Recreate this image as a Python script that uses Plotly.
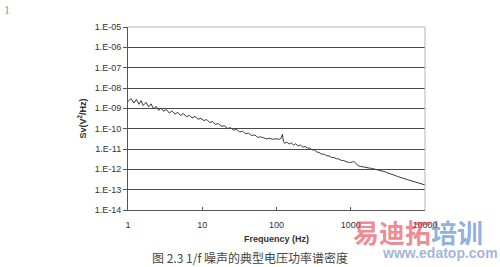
import plotly.graph_objects as go

# ---- data ----
freq_hz = [1.0, 1.1, 1.2, 1.3, 1.4, 1.5, 1.6, 1.75, 1.9, 2.05, 2.2, 2.4, 2.6, 2.8, 3.0, 3.3, 3.6, 3.9,
           4.3, 4.7, 5.1, 5.6, 6.1, 6.7, 7.3, 8.0, 8.8, 9.6, 10.5, 11.5, 12.6, 13.8, 15, 16.5, 18, 20,
           22, 24, 26.5, 29, 32, 35, 38.5, 42, 46, 51, 56, 61, 67, 73, 80, 88, 96, 104, 110, 116, 120,
           124, 128, 138, 148, 158, 170, 182, 195, 210, 225, 242, 260, 280, 300, 325, 350, 375, 405,
           440, 475, 510, 550, 595, 640, 690, 745, 800, 860, 930, 1000, 1060, 1120, 1190, 1270, 1350,
           1450, 1550, 1660, 1780, 1900, 2050, 2200, 2350, 2500, 2700, 2900, 3150, 3400, 3650, 3950,
           4250, 4600, 4950, 5350, 5750, 6200, 6700, 7200, 7800, 8400, 9100, 10000]

# Sv exponent (log10 of V^2/Hz)
sv_log10 = [-8.66, -8.52, -8.74, -8.56, -8.80, -8.62, -8.86, -8.70, -8.93, -8.78, -9.02, -8.90,
            -9.10, -8.98, -9.14, -9.06, -9.23, -9.13, -9.28, -9.20, -9.35, -9.26, -9.41, -9.35,
            -9.47, -9.40, -9.54, -9.49, -9.60, -9.55, -9.70, -9.65, -9.79, -9.75, -9.88, -9.86,
            -9.99, -9.95, -10.07, -10.04, -10.16, -10.13, -10.25, -10.22, -10.33, -10.31, -10.43,
            -10.40, -10.45, -10.50, -10.47, -10.52, -10.50, -10.53, -10.52, -10.45, -10.28, -10.62,
            -10.72, -10.66, -10.76, -10.70, -10.81, -10.74, -10.85, -10.80, -10.91, -10.87, -10.96,
            -10.95, -11.04, -11.05, -11.15, -11.17, -11.25, -11.26, -11.33, -11.34, -11.41, -11.42,
            -11.48, -11.49, -11.56, -11.57, -11.62, -11.66, -11.66, -11.62, -11.64, -11.74, -11.83,
            -11.85, -11.88, -11.90, -11.92, -11.94, -11.95, -11.98, -12.01, -12.02, -12.05, -12.09,
            -12.12, -12.18, -12.21, -12.26, -12.30, -12.35, -12.38, -12.43, -12.46, -12.50, -12.54,
            -12.57, -12.62, -12.65, -12.69, -12.72, -12.77]

sv_values = [10 ** e for e in sv_log10]

x_tickvals = [1, 10, 100, 1000, 10000]
x_ticktext = ["1", "10", "100", "1000", "10000"]
y_tickvals = [1e-14, 1e-13, 1e-12, 1e-11, 1e-10, 1e-9, 1e-8, 1e-7, 1e-6, 1e-5]
y_ticktext = ["1.E-14", "1.E-13", "1.E-12", "1.E-11", "1.E-10", "1.E-09",
              "1.E-08", "1.E-07", "1.E-06", "1.E-05"]

caption = "图 2.3 1/f 噪声的典型电压功率谱密度"

fig = go.Figure()
fig.add_trace(go.Scatter(
    x=freq_hz, y=sv_values, mode="lines",
    line=dict(color="#3a3a3a", width=1),
    showlegend=False, hoverinfo="skip",
))

tick_font = dict(family="Liberation Sans, Arial, sans-serif", size=9, color="#333333")
title_font = dict(family="Liberation Sans Narrow, Liberation Sans, Arial, sans-serif", size=9, color="#333333")

fig.update_layout(
    width=500, height=267,
    margin=dict(l=128, r=75, t=27, b=57),
    paper_bgcolor="white", plot_bgcolor="white",
    xaxis=dict(
        type="log", range=[0, 4],
        tickvals=x_tickvals, ticktext=x_ticktext,
        showgrid=False, zeroline=False,
        showline=True, linecolor="#555555", linewidth=1,
        ticks="inside", ticklen=3, tickcolor="#555555",
        ticklabelstandoff=6,
        tickfont=tick_font,
        title=dict(text="<b>Frequency (Hz)</b>", standoff=6, font=title_font),
    ),
    yaxis=dict(
        type="log", range=[-14, -5],
        tickvals=y_tickvals, ticktext=y_ticktext,
        showgrid=True, gridcolor="#4a4a4a", gridwidth=1,
        zeroline=False,
        showline=True, linecolor="#555555", linewidth=1,
        ticks="outside", ticklen=4, tickcolor="#555555",
        tickfont=tick_font,
        title=dict(text="<b>Sv(V<sup>2</sup>/Hz)</b>", standoff=6, font=title_font),
    ),
    shapes=[
        dict(type="line", xref="paper", yref="paper", x0=0, x1=1, y0=1, y1=1,
             line=dict(color="#b5b5b5", width=1), layer="above"),
        dict(type="line", xref="paper", yref="paper", x0=1, x1=1, y0=0, y1=1,
             line=dict(color="#b5b5b5", width=1), layer="above"),
    ],
    annotations=[
        dict(text=caption, xref="paper", yref="paper", x=0.41, y=-0.262,
             xanchor="center", yanchor="middle", showarrow=False,
             font=dict(family="Noto Sans CJK SC, sans-serif", size=12, color="#444444")),
        dict(text="1", xref="paper", yref="paper", x=-0.425, y=1.14,
             xanchor="left", yanchor="top", showarrow=False,
             font=dict(family="Liberation Serif, serif", size=12, color="#999999")),
        dict(text="<b><span style='color:rgba(230,60,70,0.62)'>易迪拓</span>"
                  "<span style='color:rgba(70,125,200,0.62)'>培训</span></b>",
             xref="paper", yref="paper", x=0.75, y=-0.115,
             xanchor="left", yanchor="middle", showarrow=False,
             font=dict(family="Noto Sans CJK SC, sans-serif", size=26)),
        dict(text="<b>www.edatop.com</b>", xref="paper", yref="paper", x=0.85, y=-0.235,
             xanchor="left", yanchor="middle", showarrow=False,
             font=dict(family="Liberation Sans, Arial, sans-serif", size=14,
                       color="rgba(120,150,195,0.7)")),
    ],
)

fig.write_html("out.html")
